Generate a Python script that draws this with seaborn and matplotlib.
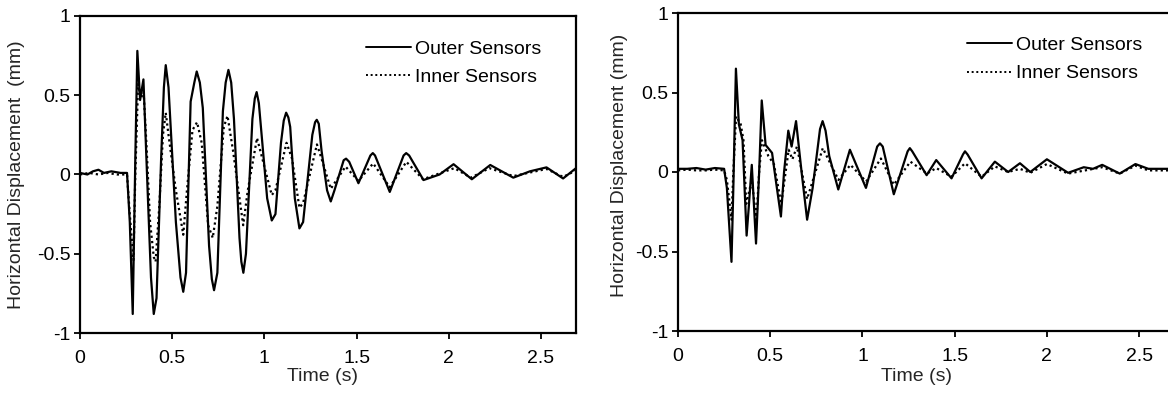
import matplotlib
matplotlib.use("Agg")
import matplotlib.pyplot as plt
import seaborn as sns
import pandas as pd

# ---------------- data ----------------
left_outer_t = [0.00, 0.04, 0.07, 0.10, 0.13, 0.17, 0.22, 0.255, 0.27, 0.286, 0.30, 0.311, 0.326, 0.344,
                0.37, 0.385, 0.40, 0.415, 0.44, 0.455, 0.465, 0.48, 0.52, 0.545, 0.56, 0.575, 0.60, 0.62,
                0.633, 0.65, 0.666, 0.70, 0.715, 0.727, 0.745, 0.775, 0.79, 0.805, 0.82, 0.835, 0.865,
                0.875, 0.886, 0.90, 0.935, 0.948, 0.958, 0.97, 0.985, 1.015, 1.04, 1.06, 1.09, 1.105,
                1.118, 1.13, 1.14, 1.165, 1.19, 1.21, 1.26, 1.275, 1.284, 1.295, 1.31, 1.34, 1.36, 1.38,
                1.43, 1.443, 1.46, 1.51, 1.575, 1.588, 1.60, 1.68, 1.755, 1.769, 1.785, 1.863, 1.95, 2.026,
                2.125, 2.225, 2.35, 2.44, 2.53, 2.62, 2.69]
left_outer_y = [0.01, 0.00, 0.02, 0.03, 0.01, 0.02, 0.01, 0.01, -0.30, -0.88, 0.10, 0.78, 0.47, 0.60,
                -0.20, -0.65, -0.88, -0.78, 0.10, 0.55, 0.69, 0.55, -0.30, -0.65, -0.74, -0.62, 0.46, 0.58,
                0.65, 0.58, 0.42, -0.45, -0.66, -0.73, -0.62, 0.40, 0.58, 0.66, 0.58, 0.35, -0.40,
                -0.55, -0.62, -0.50, 0.35, 0.48, 0.52, 0.45, 0.25, -0.15, -0.29, -0.25, 0.20, 0.34,
                0.39, 0.36, 0.30, -0.15, -0.34, -0.30, 0.25, 0.33, 0.345, 0.32, 0.15, -0.10, -0.17, -0.10,
                0.09, 0.10, 0.08, -0.055, 0.12, 0.135, 0.12, -0.11, 0.12, 0.135, 0.12, -0.035, 0.00, 0.065,
                -0.03, 0.06, -0.02, 0.02, 0.045, -0.025, 0.04]

left_inner_t = [0.00, 0.05, 0.10, 0.15, 0.20, 0.255, 0.27, 0.29, 0.30, 0.315, 0.33, 0.345, 0.36, 0.38,
                0.40, 0.41, 0.43, 0.45, 0.465, 0.48, 0.52, 0.56, 0.58, 0.61, 0.635, 0.66, 0.695, 0.72, 0.745,
                0.78, 0.80, 0.83, 0.885, 0.91, 0.96, 1.00, 1.04, 1.06, 1.12, 1.15, 1.19, 1.21, 1.285,
                1.31, 1.36, 1.44, 1.51, 1.59, 1.68, 1.77, 1.86, 2.03, 2.12, 2.22, 2.35, 2.53, 2.62, 2.69]
left_inner_y = [0.00, 0.01, 0.00, 0.01, 0.00, 0.00, -0.25, -0.54, 0.00, 0.57, 0.48, 0.52, 0.20, -0.30,
                -0.52, -0.55, -0.20, 0.25, 0.39, 0.25, -0.10, -0.38, -0.10, 0.28, 0.33, 0.20, -0.32, -0.40, -0.20,
                0.30, 0.37, 0.15, -0.32, -0.10, 0.23, 0.05, -0.13, -0.10, 0.20, 0.10, -0.21, -0.18, 0.19,
                0.10, -0.09, 0.05, -0.04, 0.07, -0.08, 0.08, -0.03, 0.04, -0.02, 0.04, -0.01, 0.035, -0.015, 0.025]

right_outer_t = [0.00, 0.05, 0.10, 0.15, 0.20, 0.25, 0.265, 0.29, 0.30, 0.314, 0.33, 0.35, 0.372, 0.385,
                 0.40, 0.423, 0.44, 0.454, 0.475, 0.51, 0.53, 0.558, 0.575, 0.598, 0.616, 0.64, 0.67, 0.70,
                 0.73, 0.77, 0.784, 0.80, 0.82, 0.869, 0.932, 1.019, 1.08, 1.095, 1.11, 1.17, 1.245, 1.257,
                 1.27, 1.348, 1.40, 1.483, 1.545, 1.556, 1.57, 1.646, 1.718, 1.79, 1.854, 1.91, 2.00, 2.115,
                 2.20, 2.25, 2.30, 2.395, 2.48, 2.55, 2.66, 2.70]
right_outer_y = [0.02, 0.02, 0.025, 0.015, 0.025, 0.02, -0.10, -0.565, -0.10, 0.65, 0.30, 0.20, -0.40, -0.20,
                 0.045, -0.45, 0.00, 0.45, 0.17, 0.12, -0.05, -0.28, 0.00, 0.26, 0.16, 0.32, 0.00, -0.30,
                 -0.10, 0.27, 0.32, 0.26, 0.10, -0.11, 0.14, -0.10, 0.16, 0.18, 0.16, -0.14, 0.13, 0.15,
                 0.13, -0.02, 0.075, -0.04, 0.11, 0.13, 0.11, -0.04, 0.065, 0.00, 0.055, 0.00, 0.08, -0.005,
                 0.03, 0.02, 0.045, -0.01, 0.05, 0.02, 0.02, 0.02]

right_inner_t = [0.00, 0.05, 0.10, 0.15, 0.20, 0.25, 0.265, 0.29, 0.30, 0.315, 0.34, 0.355, 0.37, 0.40,
                 0.425, 0.44, 0.455, 0.49, 0.52, 0.56, 0.60, 0.62, 0.645, 0.70, 0.785, 0.87, 0.935, 1.02,
                 1.10, 1.17, 1.26, 1.35, 1.40, 1.483, 1.556, 1.646, 1.718, 1.79, 1.854, 1.91, 2.00, 2.115,
                 2.30, 2.395, 2.48, 2.55, 2.70]
right_inner_y = [0.01, 0.015, 0.01, 0.01, 0.015, 0.01, -0.05, -0.30, 0.00, 0.35, 0.30, 0.20, -0.20, -0.05,
                 -0.30, 0.00, 0.20, 0.10, 0.05, -0.20, 0.14, 0.08, 0.16, -0.17, 0.15, -0.05, 0.045, -0.06,
                 0.085, -0.08, 0.065, -0.01, 0.025, -0.03, 0.055, -0.03, 0.035, 0.00, 0.02, -0.005, 0.05, -0.01,
                 0.03, -0.01, 0.04, 0.01, 0.01]

series_names = ["Outer Sensors", "Inner Sensors"]
x_ticks = [0, 0.5, 1, 1.5, 2, 2.5]
x_tick_labels = ["0", "0.5", "1", "1.5", "2", "2.5"]
y_ticks = [-1, -0.5, 0, 0.5, 1]
y_tick_labels = ["-1", "-0.5", "0", "0.5", "1"]
x_label = "Time (s)"
y_labels = ["Horizontal Displacement  (mm)", "Horizontal Displacement (mm)"]


def make_frame(outer_t, outer_y, inner_t, inner_y):
    a = pd.DataFrame({"time": outer_t, "disp": outer_y, "sensor": series_names[0]})
    b = pd.DataFrame({"time": inner_t, "disp": inner_y, "sensor": series_names[1]})
    return pd.concat([a, b], ignore_index=True)


frames = [make_frame(left_outer_t, left_outer_y, left_inner_t, left_inner_y),
          make_frame(right_outer_t, right_outer_y, right_inner_t, right_inner_y)]

# ---------------- styling ----------------
sns.set_theme(style="ticks")
plt.rcParams["font.family"] = ["Liberation Sans", "DejaVu Sans"]
plt.rcParams["axes.edgecolor"] = "black"
plt.rcParams["axes.linewidth"] = 1.6
plt.rcParams["xtick.color"] = "black"
plt.rcParams["ytick.color"] = "black"
plt.rcParams["text.color"] = "black"

FS = 14
W, H = 1168, 393
fig = plt.figure(figsize=(W / 100, H / 100), dpi=100)
fig.patch.set_facecolor("white")

# pixel boxes: left, top, right, bottom
boxes = [(80, 16, 576, 333), (678, 13, 1176, 331)]
legend_anchor = [(0.929, 0.924), (0.932, 0.926)]
xlabel_pos = [(0.488, -0.11), (0.478, -0.115)]
ylabel_pos = [(-0.111, 0.498), (-0.100, 0.52)]

for i, (frame, box) in enumerate(zip(frames, boxes)):
    l, t, r, b = box
    ax = fig.add_axes([l / W, 1 - b / H, (r - l) / W, (b - t) / H])
    ax.set_facecolor("white")
    sns.lineplot(data=frame, x="time", y="disp", style="sensor", style_order=series_names,
                 dashes={series_names[0]: "", series_names[1]: (1.0, 1.4)},
                 color="black", linewidth=1.6, sort=False, estimator=None, ax=ax)
    ax.set_xlim(0, 2.69 if i == 0 else 2.7)
    ax.set_ylim(-1, 1)
    ax.set_xticks(x_ticks)
    ax.set_xticklabels(x_tick_labels)
    ax.set_yticks(y_ticks)
    ax.set_yticklabels(y_tick_labels)
    ax.tick_params(axis="both", direction="out", length=4, width=1.3, labelsize=FS, pad=3)
    ax.tick_params(axis="x", pad=8)
    ax.set_xlabel(x_label, fontsize=FS, labelpad=0)
    ax.xaxis.set_label_coords(*xlabel_pos[i])
    ax.set_ylabel(y_labels[i], fontsize=FS)
    ax.yaxis.set_label_coords(*ylabel_pos[i])
    for s in ["top", "right", "left", "bottom"]:
        ax.spines[s].set_visible(True)
        ax.spines[s].set_color("black")
    if i == 1:
        ax.spines["right"].set_visible(False)
    leg = ax.legend(loc="upper right", bbox_to_anchor=legend_anchor[i], frameon=False,
                    fontsize=FS, handlelength=2.3, handletextpad=0.2, labelspacing=0.55,
                    borderpad=0, borderaxespad=0)
    for h in leg.get_lines():
        h.set_color("black")
        h.set_linewidth(1.4)

fig.savefig("out.png", dpi=100, facecolor="white")
